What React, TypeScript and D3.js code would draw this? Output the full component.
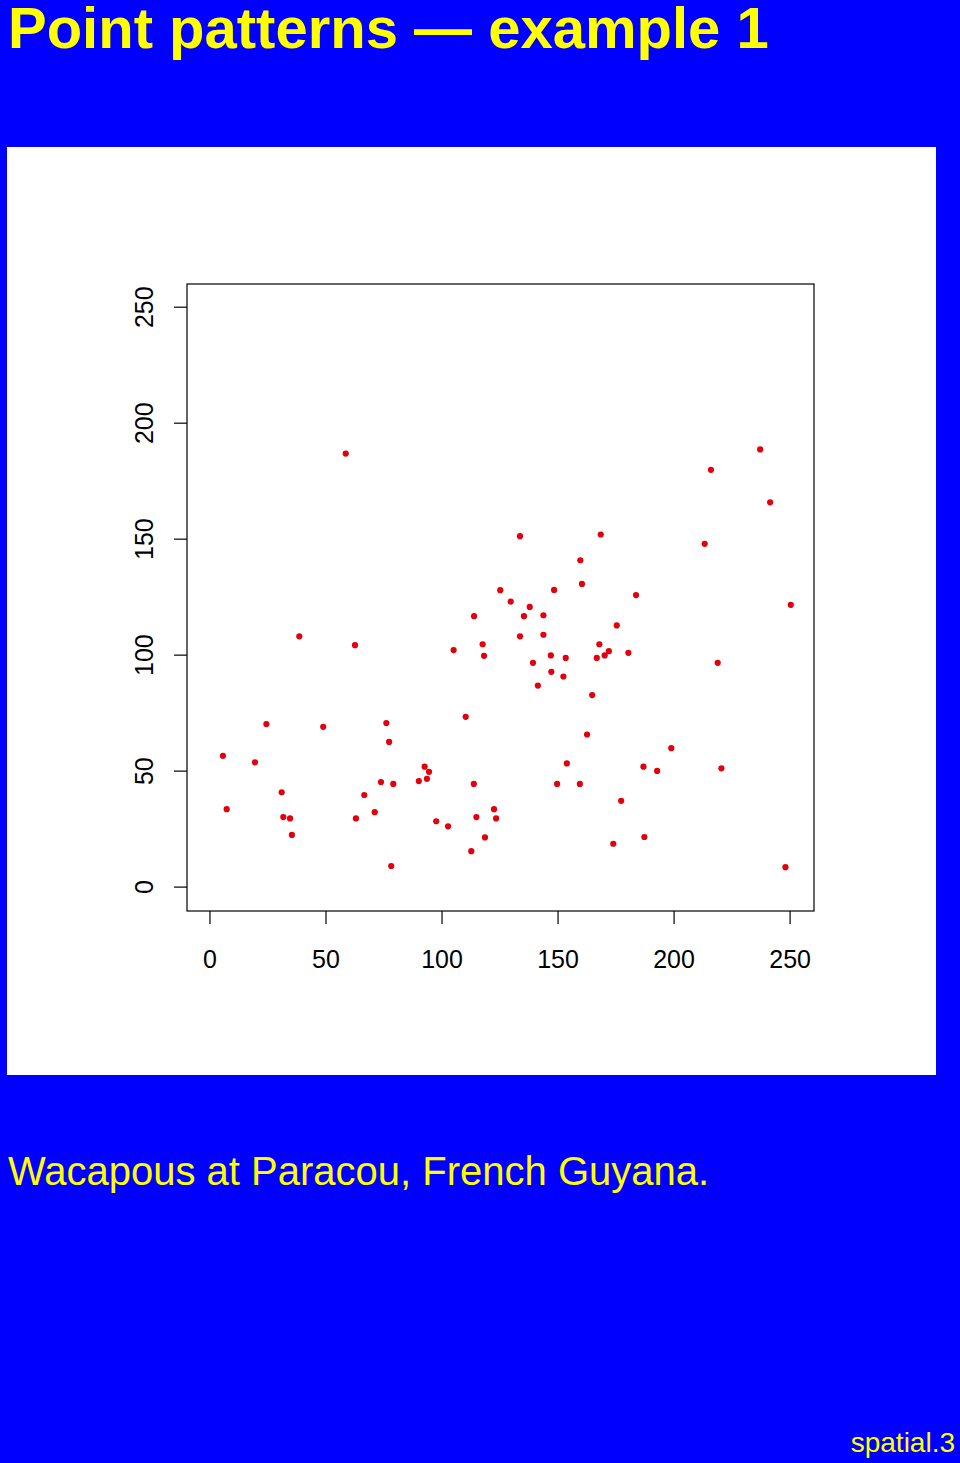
import React from "react";
import * as d3 from "d3";

// Wacapou tree locations at Paracou (metres)
const xs: number[] = [
  58.5, 125.1, 113.8, 38.5, 62.5, 105.0, 117.5, 118.1, 237.1, 215.9,
  241.4, 133.6, 168.4, 213.2, 159.6, 160.3, 148.3, 183.6, 129.6, 137.8,
  250.3, 135.3, 143.7, 175.3, 133.6, 143.7, 167.8, 171.9, 180.3, 146.9,
  153.3, 166.7, 170.1, 139.2, 218.8, 147.1, 152.3, 141.3, 164.7, 162.5,
  198.8, 153.8, 186.8, 192.7, 220.4, 149.6, 159.4, 177.2, 122.4, 123.3,
  187.2, 173.8, 248.0, 110.2, 24.3, 48.8, 76.0, 77.2, 5.6, 19.4,
  92.5, 94.4, 73.7, 79.0, 90.0, 93.5, 113.7, 30.9, 66.5, 7.2,
  71.0, 31.6, 34.5, 62.9, 114.8, 97.5, 102.6, 35.3, 118.5, 112.6,
  78.1,
];
const ys: number[] = [
  186.9, 128.0, 116.8, 108.1, 104.3, 102.2, 104.7, 99.7, 188.7, 179.9,
  165.9, 151.3, 152.0, 148.0, 140.9, 130.7, 128.1, 125.9, 123.1, 120.8,
  121.7, 116.8, 117.2, 112.8, 108.1, 108.8, 104.7, 101.7, 101.0, 99.9,
  98.8, 98.8, 99.9, 96.7, 96.7, 92.8, 90.8, 86.9, 82.8, 65.8,
  59.9, 53.3, 51.9, 50.1, 51.2, 44.5, 44.5, 37.2, 33.6, 29.6,
  21.6, 18.7, 8.6, 73.4, 70.3, 69.1, 70.7, 62.6, 56.6, 53.8,
  51.9, 49.7, 45.3, 44.5, 45.7, 46.7, 44.5, 40.9, 39.7, 33.6,
  32.3, 30.2, 29.6, 29.6, 30.2, 28.4, 26.2, 22.5, 21.4, 15.5,
  9.1,
];
const tickValues: number[] = [0, 50, 100, 150, 200, 250];

const W = 960;
const H = 1463;
const FONT = "'Liberation Sans', Arial, Helvetica, sans-serif";
const YELLOW = "#ffff00";
const BLUE = "#0000ff";

export default function App() {
  // plot region
  const left = 187;
  const right = 814;
  const top = 284;
  const bottom = 911;
  const x = d3.scaleLinear().domain([-9.9, 260.3]).range([left, right]);
  const y = d3.scaleLinear().domain([-10.3, 260.0]).range([bottom, top]);

  const pts = xs.map((v, i) => ({ x: v, y: ys[i] }));

  return (
    <svg
      width={W}
      height={H}
      viewBox={`0 0 ${W} ${H}`}
      style={{ display: "block", position: "absolute", left: 0, top: 0 }}
    >
      <rect x={0} y={0} width={W} height={H} fill={BLUE} />
      <text
        x={8}
        y={48}
        fill={YELLOW}
        fontFamily={FONT}
        fontWeight="bold"
        fontSize={58}
      >
        Point patterns — example 1
      </text>

      <rect x={7} y={147} width={929} height={928} fill="#ffffff" />

      <rect
        x={left}
        y={top}
        width={right - left}
        height={bottom - top}
        fill="none"
        stroke="#000"
        strokeWidth={1.2}
      />

      {tickValues.map((t) => (
        <g key={"xt" + t}>
          <line x1={x(t)} x2={x(t)} y1={bottom} y2={bottom + 13} stroke="#000" strokeWidth={1.2} />
          <text
            x={x(t)}
            y={968}
            textAnchor="middle"
            fontFamily={FONT}
            fontSize={25}
            fill="#000"
          >
            {t}
          </text>
        </g>
      ))}

      {tickValues.map((t) => (
        <g key={"yt" + t}>
          <line x1={left - 13} x2={left} y1={y(t)} y2={y(t)} stroke="#000" strokeWidth={1.2} />
          <text
            transform={`translate(153,${y(t)}) rotate(-90)`}
            textAnchor="middle"
            fontFamily={FONT}
            fontSize={25}
            fill="#000"
          >
            {t}
          </text>
        </g>
      ))}

      {pts.map((p, i) => (
        <circle key={i} cx={x(p.x)} cy={y(p.y)} r={3.1} fill="#e2000c" />
      ))}

      <text x={8} y={1185} fill={YELLOW} fontFamily={FONT} fontSize={40}>
        Wacapous at Paracou, French Guyana.
      </text>
      <text
        x={955}
        y={1452}
        textAnchor="end"
        fill={YELLOW}
        fontFamily={FONT}
        fontSize={28}
      >
        spatial.3
      </text>
    </svg>
  );
}
